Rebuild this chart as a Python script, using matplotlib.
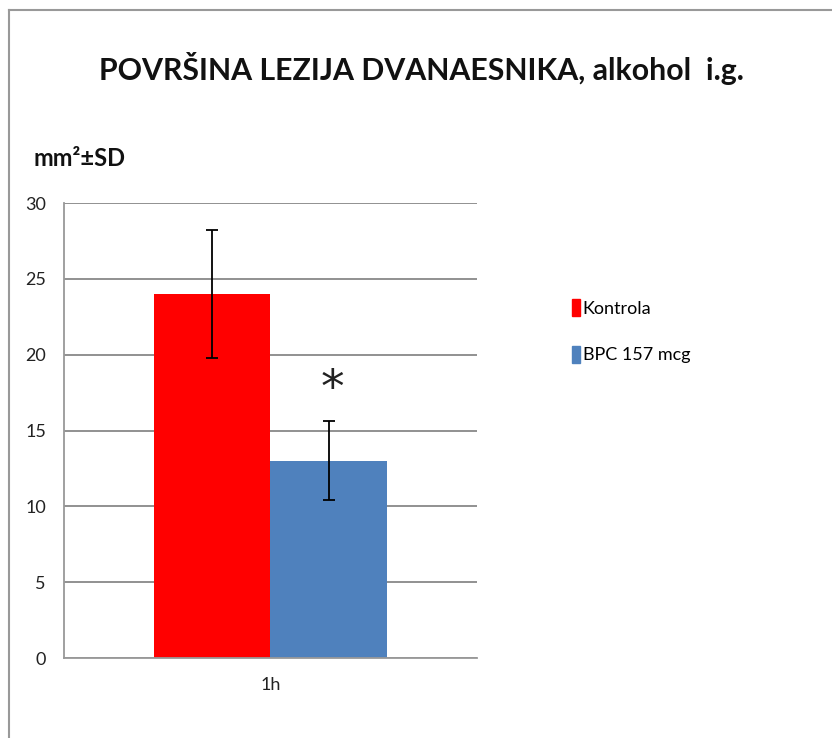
import numpy as np
import matplotlib.pyplot as plt
from matplotlib.lines import Line2D
from matplotlib.patches import Patch

plt.rcParams['font.family'] = ['Lato', 'DejaVu Sans']

categories = ["1h"]
groups = ["Kontrola", "BPC 157 mcg"]
means = [24.0, 13.0]
sds = [4.2, 2.6]
colors = ["#ff0000", "#4f81bd"]
yticks = [0, 5, 10, 15, 20, 25, 30]

fig = plt.figure(figsize=(8.32, 7.38), dpi=100)
ax = fig.add_axes([0.0769, 0.1084, 0.4964, 0.6165])

width = 0.283
offsets = [-width / 2, width / 2]
for i in range(len(groups)):
    ax.bar(offsets[i], means[i], width=width, color=colors[i], zorder=2)
    ax.errorbar(offsets[i], means[i], yerr=sds[i], color="black", lw=1.3,
                capsize=4.3, capthick=1.3, zorder=3)

# significance mark above the BPC bar
ax.text(offsets[1] + 0.008, 17.7, "*", ha="center", va="center",
        fontsize=34, color="#222222", family="DejaVu Sans")

ax.set_xlim(-0.5, 0.5)
ax.set_ylim(0, 30)
ax.set_yticks(yticks)
ax.set_xticks([0])
ax.set_xticklabels(categories)
ax.yaxis.grid(True, color="#888888", lw=1.3, zorder=0)
ax.tick_params(length=0, labelsize=13, colors="#222222", pad=14)
ax.tick_params(axis="y", pad=13)
for s in ["top", "right"]:
    ax.spines[s].set_visible(False)
for s in ["left", "bottom"]:
    ax.spines[s].set_color("#999999")
    ax.spines[s].set_linewidth(1.3)

fig.text(0.506, 0.907, "POVRŠINA LEZIJA DVANAESNIKA, alkohol  i.g.", ha="center", va="center",
         fontsize=21.8, fontweight="bold", color="#111111")
fig.text(0.040, 0.785, "mm²±SD", ha="left", va="center", fontsize=17,
         fontweight="bold", color="#111111")

handles = [Patch(color=c) for c in colors]
fig.legend(handles, groups, loc="upper left", bbox_to_anchor=(0.668, 0.617),
           frameon=False, fontsize=13, handlelength=0.45, handleheight=1.1,
           handletextpad=0.15, labelspacing=1.6)

# outer frame (left and top visible)
fig.add_artist(Line2D([0.011, 0.011], [0.0, 0.986], color="#999999", lw=1.5))
fig.add_artist(Line2D([0.011, 1.0], [0.986, 0.986], color="#999999", lw=1.5))

fig.savefig("out.png", dpi=100)
